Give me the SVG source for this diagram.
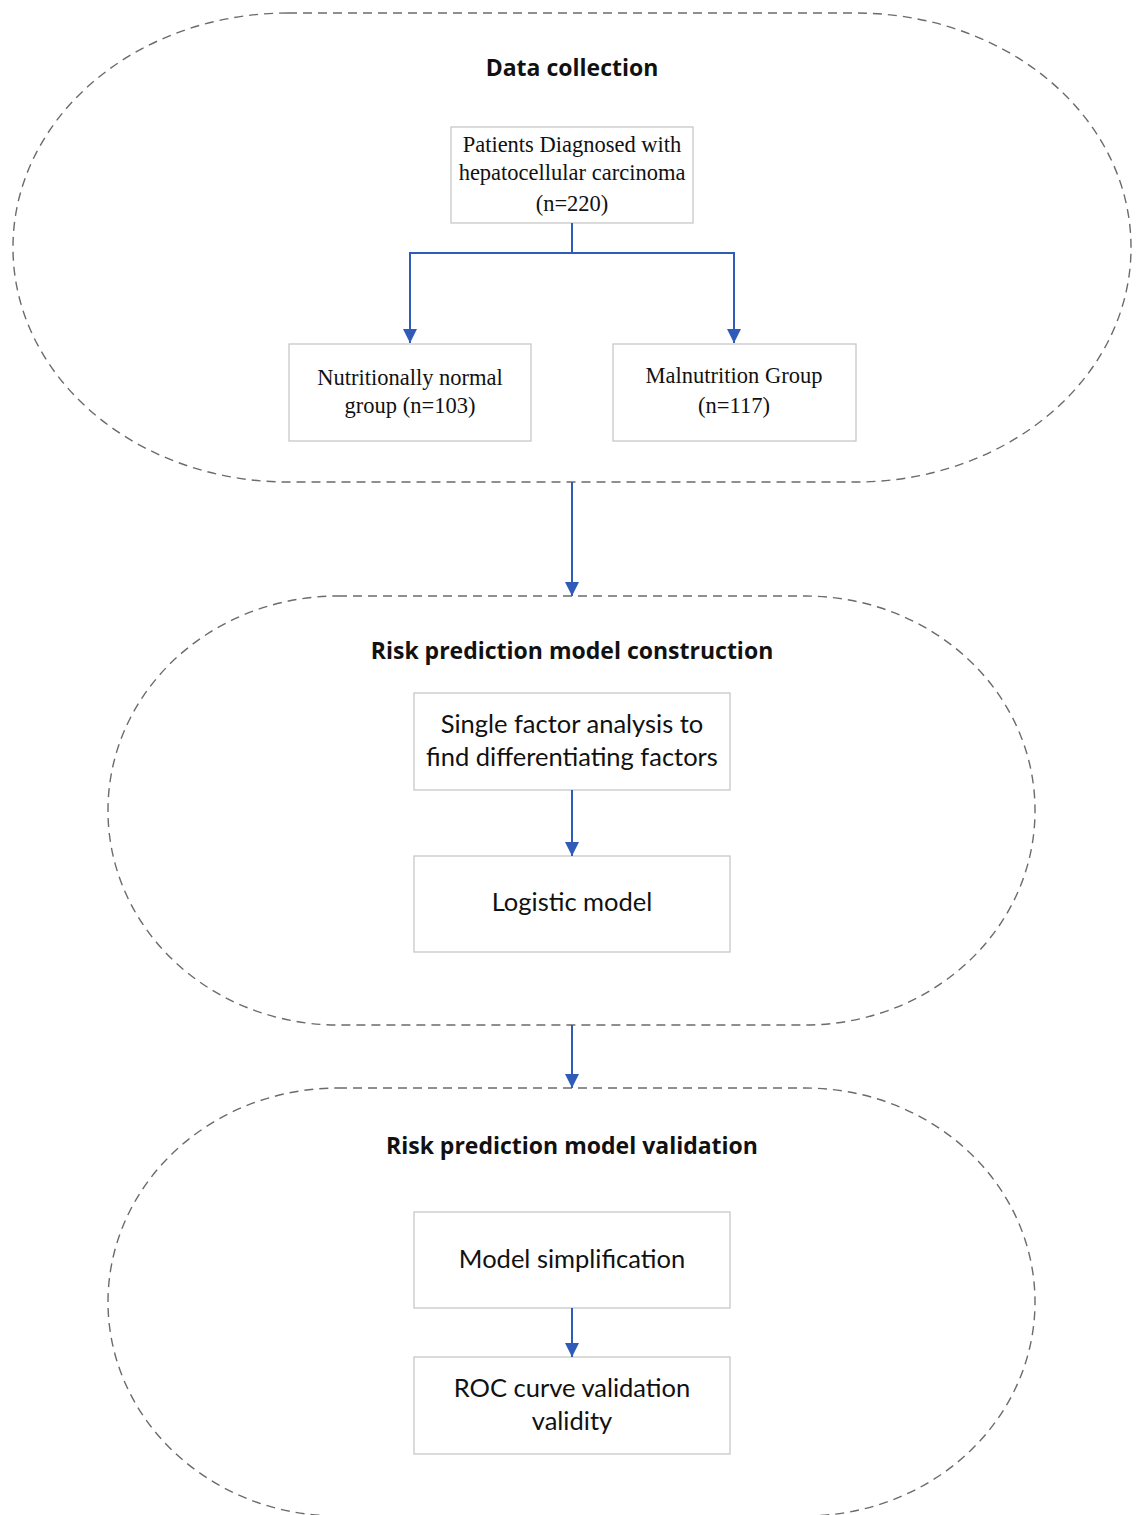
<svg xmlns="http://www.w3.org/2000/svg" width="1142" height="1515" viewBox="0 0 1142 1515">
<defs>
<style>
.stage{fill:none;stroke:#6b6b6b;stroke-width:1.4;stroke-dasharray:9 6}
.box{fill:#fff;stroke:#c8c8c8;stroke-width:1.3}
.head{font-family:"Open Sans","Liberation Sans",sans-serif;font-weight:bold;font-size:23px;fill:#111;text-anchor:middle}
.serif{font-family:"Liberation Serif",serif;font-size:22.5px;fill:#111;text-anchor:middle}
.sans{font-family:Lato,"Liberation Sans",sans-serif;font-size:25.5px;fill:#111;text-anchor:middle}
.conn{fill:none;stroke:#2f5cb8;stroke-width:2}
</style>
<marker id="arr" markerWidth="14" markerHeight="14" refX="14" refY="7" orient="auto" markerUnits="userSpaceOnUse" viewBox="0 0 14 14">
<path d="M0,0 L14,7 L0,14 z" fill="#2f5cb8"/>
</marker>
</defs>
<rect width="1142" height="1515" fill="#fff"/>
<g id="stage-data-collection">
<rect class="stage" x="13" y="13" width="1118" height="469" rx="275" ry="234"/>
<text class="head" x="572" y="76">Data collection</text>
</g>
<g id="stage-construction">
<rect class="stage" x="108" y="596" width="927" height="429" rx="230" ry="214"/>
<text class="head" x="572" y="659">Risk prediction model construction</text>
</g>
<g id="stage-validation">
<rect class="stage" x="108" y="1088" width="927" height="428" rx="230" ry="214"/>
<text class="head" x="572" y="1154">Risk prediction model validation</text>
</g>
<g id="node-patients">
<rect class="box" x="451" y="127" width="242" height="96"/>
<text class="serif" x="572" y="152">Patients Diagnosed with</text>
<text class="serif" x="572" y="180">hepatocellular carcinoma</text>
<text class="serif" x="572" y="211">(n=220)</text>
</g>
<g id="node-normal">
<rect class="box" x="289" y="344" width="242" height="97"/>
<text class="serif" x="410" y="385">Nutritionally normal</text>
<text class="serif" x="410" y="413">group (n=103)</text>
</g>
<g id="node-malnutrition">
<rect class="box" x="613" y="344" width="243" height="97"/>
<text class="serif" x="734" y="383">Malnutrition Group</text>
<text class="serif" x="734" y="413">(n=117)</text>
</g>
<g id="node-single-factor">
<rect class="box" x="414" y="693" width="316" height="97"/>
<text class="sans" x="572" y="733">Single factor analysis to</text>
<text class="sans" x="572" y="766">find differentiating factors</text>
</g>
<g id="node-logistic">
<rect class="box" x="414" y="856" width="316" height="96"/>
<text class="sans" x="572" y="911">Logistic model</text>
</g>
<g id="node-simplification">
<rect class="box" x="414" y="1212" width="316" height="96"/>
<text class="sans" x="572" y="1268">Model simplification</text>
</g>
<g id="node-roc">
<rect class="box" x="414" y="1357" width="316" height="97"/>
<text class="sans" x="572" y="1397">ROC curve validation</text>
<text class="sans" x="572" y="1430">validity</text>
</g>
<g id="connectors">
<path class="conn" d="M572,223 V253 H410 V343" marker-end="url(#arr)"/>
<path class="conn" d="M572,253 H734 V343" marker-end="url(#arr)"/>
<path class="conn" d="M572,482 V596" marker-end="url(#arr)"/>
<path class="conn" d="M572,790 V856" marker-end="url(#arr)"/>
<path class="conn" d="M572,1025 V1088" marker-end="url(#arr)"/>
<path class="conn" d="M572,1308 V1357" marker-end="url(#arr)"/>
</g>
</svg>
